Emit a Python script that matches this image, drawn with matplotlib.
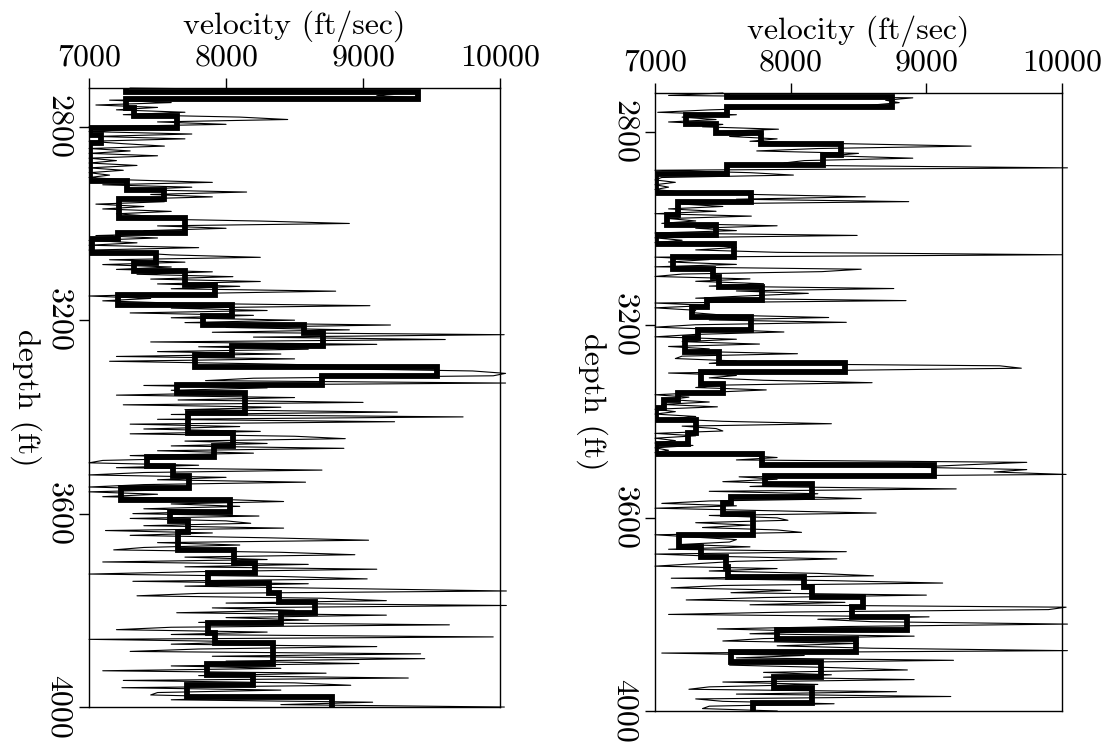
import numpy as np
import matplotlib
matplotlib.use("Agg")
import matplotlib.pyplot as plt

# log samples every 5 ft from 2720 to 4000 ft
depth_log = np.arange(2720, 4001, 5)

left_log = [
    7300, 8900, 9300, 9100, 9350, 7150, 7600, 7050, 7500, 7200,
    7700, 7250, 8100, 8450, 7500, 8000, 7000, 7350, 7000, 7750,
    7050, 7700, 7000, 7250, 7550, 7000, 7300, 7000, 7500, 7000,
    7200, 7000, 7350, 7000, 7250, 7000, 7150, 7000, 7300, 7900,
    7100, 7750, 7300, 8150, 7450, 7900, 7250, 7550, 7050, 7400,
    7100, 7600, 7200, 7450, 7300, 8250, 8900, 7500, 8000, 7400,
    7700, 7050, 7500, 7000, 7350, 7000, 7800, 7000, 7300, 7600,
    8250, 7150, 7700, 7100, 7600, 7200, 7900, 7350, 8050, 7450,
    8250, 7500, 8100, 7600, 8800, 7700, 7000, 7450, 7100, 7650,
    9050, 7600, 8300, 7300, 8200, 7600, 8500, 7700, 9200, 8000,
    8900, 7900, 10030, 8200, 9600, 7450, 9100, 7800, 8600, 7500,
    8400, 7200, 8500, 7150, 8200, 9100, 8700, 9800, 10040, 9950,
    8200, 7850, 10040, 7400, 8300, 7600, 8100, 7200, 8500, 7650,
    9000, 7250, 8400, 7700, 9250, 7600, 9730, 7500, 9230, 7300,
    8100, 7400, 8250, 7300, 8500, 8870, 7700, 8300, 7600, 8860,
    7500, 8200, 7300, 7900, 7100, 7000, 7800, 7200, 8700, 7400,
    7000, 8000, 7500, 8580, 7400, 7000, 7700, 7000, 7500, 7100,
    7900, 8420, 7600, 8100, 7400, 8000, 7320, 8240, 7300, 8000,
    8180, 7400, 8420, 7120, 7900, 7300, 8300, 9040, 7500, 8100,
    7400, 7180, 8400, 8940, 7700, 8300, 7100, 8600, 7700, 9100,
    7800, 7000, 8400, 9030, 7320, 8600, 7700, 8900, 10046, 7800,
    7350, 8700, 9170, 8000, 10046, 7900, 8500, 7640, 9170, 8000,
    8600, 7800, 9630, 7600, 7200, 8300, 7600, 9950, 7000, 8200,
    7600, 9100, 7800, 7300, 9420, 7900, 9450, 8000, 8970, 7600,
    8400, 7100, 8730, 7800, 9330, 7250, 8500, 8910, 7240, 8400,
    7500, 7450, 8200, 7600, 9070, 8400, 10030,
]

right_log = [
    7500, 7100, 8900, 8700, 8800, 8600, 7960, 7400, 7020, 7600,
    7200, 7450, 7100, 7500, 7350, 7910, 7450, 7800, 7550, 7900,
    7700, 8400, 9330, 8200, 7750, 8500, 8300, 8900, 8100, 7950,
    8100, 10040, 7000, 7700, 8020, 7050, 7000, 7150, 7000, 7100,
    7000, 7200, 7700, 8550, 7600, 8870, 7200, 7500, 7100, 7450,
    7000, 7710, 7100, 7300, 7050, 7900, 7300, 7600, 7000, 8490,
    7000, 7200, 7000, 7380, 7600, 7300, 7900, 10000, 7000, 7400,
    7100, 7600, 7000, 8520, 8230, 7200, 7000, 7700, 7300, 7800,
    7400, 8760, 7600, 8130, 7700, 7300, 8850, 7000, 7400, 7000,
    7300, 7280, 7500, 8280, 7400, 8410, 7300, 7000, 7500, 7950,
    7300, 7000, 7600, 7200, 7770, 7100, 7400, 7250, 8050, 7200,
    7150, 7600, 7400, 9540, 9700, 8200, 7100, 7600, 7400, 7800,
    8600, 7500, 7300, 7820, 7400, 7000, 7250, 7100, 7400, 7050,
    7460, 7000, 7150, 7000, 7300, 7100, 7500, 8300, 7200, 7450,
    7500, 7000, 7300, 7000, 7150, 7000, 7280, 7000, 7100, 7000,
    7620, 7900, 7600, 9740, 9300, 8900, 9740, 9500, 10030, 7620,
    7900, 7500, 8100, 7700, 9220, 7400, 8200, 7900, 8520, 7400,
    7050, 7600, 7000, 7800, 8630, 7400, 7900, 7980, 7300, 7700,
    7350, 7900, 8080, 7000, 7300, 7600, 7550, 7200, 7700, 7100,
    8410, 7000, 7500, 8340, 7600, 7300, 7000, 7900, 7400, 8200,
    8610, 7120, 8300, 9120, 7500, 7120, 8000, 7560, 9000, 7800,
    7230, 8400, 7700, 10030, 9900, 8000, 7100, 9020, 8200, 8600,
    10040, 8400, 7460, 8200, 7700, 8910, 7800, 7500, 8500, 7900,
    8600, 10040, 7050, 8100, 7600, 9200, 7700, 7550, 8300, 8860,
    7800, 8300, 7800, 8910, 7500, 8200, 7400, 7250, 8780, 7600,
    9180, 7300, 7500, 8320, 7400, 7350, 7900,
]

# blocked (layer) velocities: layer boundaries and values
left_edges = [2720, 2728, 2743, 2762, 2778, 2802, 2817, 2833, 2912, 2930,
              2950, 2988, 3020, 3033, 3061, 3082, 3099, 3127, 3147, 3168,
              3192, 3209, 3227, 3254, 3271, 3296, 3316, 3334, 3351, 3392,
              3434, 3461, 3482, 3502, 3523, 3547, 3572, 3596, 3616, 3637,
              3675, 3703, 3723, 3744, 3765, 3782, 3806, 3827, 3847, 3868,
              3910, 3934, 3955, 3979, 4000]
left_blocks = [7270, 9400, 7270, 7330, 7645, 7010, 7090, 7010, 7280, 7550,
               7220, 7700, 7210, 7020, 7490, 7330, 7700, 7920, 7210, 8040,
               7830, 8570, 8710, 8040, 7770, 9540, 8700, 7640, 8140, 7720,
               8050, 7910, 7420, 7610, 7730, 7230, 8030, 7590, 7720, 7650,
               8055, 8210, 7870, 8315, 8390, 8650, 8400, 7870, 7920, 8345,
               7860, 8200, 7715, 8770]

right_edges = [2720, 2728, 2748, 2766, 2785, 2803, 2825, 2849, 2870, 2887,
               2928, 2946, 2973, 2994, 3015, 3032, 3060, 3084, 3101, 3122,
               3149, 3163, 3184, 3211, 3228, 3256, 3280, 3298, 3322, 3342,
               3356, 3373, 3398, 3425, 3446, 3467, 3491, 3513, 3529, 3556,
               3570, 3591, 3636, 3660, 3681, 3701, 3722, 3743, 3763, 3784,
               3805, 3832, 3850, 3877, 3898, 3929, 3953, 3984, 4000]
right_blocks = [7530, 8745, 7530, 7230, 7450, 7780, 8370, 8240, 7530, 7010,
                7710, 7170, 7090, 7450, 7010, 7580, 7130, 7430, 7470, 7790,
                7380, 7270, 7710, 7320, 7220, 7470, 8400, 7340, 7500, 7170,
                7070, 7010, 7300, 7240, 7010, 7790, 9060, 7810, 8160, 7560,
                7500, 7720, 7180, 7340, 7520, 7540, 8100, 8160, 8530, 8450,
                8860, 7900, 8480, 7560, 8220, 7880, 8160, 7720]

vel_ticks = [7000, 8000, 9000, 10000]
depth_ticks = [2800, 3200, 3600, 4000]

plt.rcParams['font.family'] = ['cmr10', 'DejaVu Serif']
plt.rcParams['axes.formatter.use_mathtext'] = True

fig = plt.figure(figsize=(11.13, 7.47), dpi=100)
ax_left = fig.add_axes([0.0800, 0.0535, 0.3693, 0.8286])
ax_right = fig.add_axes([0.5885, 0.0482, 0.3657, 0.8273])

panels = [(ax_left, left_log, left_edges, left_blocks),
          (ax_right, right_log, right_edges, right_blocks)]

for ax, log, edges, blocks in panels:
    ax.plot(log, depth_log, color='black', lw=0.8, clip_on=False, zorder=2)
    ax.stairs(blocks, edges, orientation='horizontal', baseline=None,
              color='black', lw=4.2, joinstyle='miter', zorder=3)

    ax.set_xlim(7000, 10000)
    ax.set_ylim(4000, 2720)
    ax.xaxis.tick_top()
    ax.xaxis.set_label_position('top')
    ax.set_xticks(vel_ticks)
    ax.set_yticks(depth_ticks)
    ax.set_yticklabels([str(d) for d in depth_ticks], rotation=-90, va='center')
    ax.tick_params(axis='both', direction='out', length=7, width=1,
                   labelsize=23, pad=5)
    ax.set_xlabel('velocity (ft/sec)', fontsize=23, labelpad=7)
    ax.set_ylabel('depth (ft)', fontsize=23, rotation=-90, va='center')
    ax.yaxis.set_label_coords(-0.155, 0.5)
    for side in ax.spines.values():
        side.set_linewidth(1.0)

fig.savefig('out.png', dpi=100)
